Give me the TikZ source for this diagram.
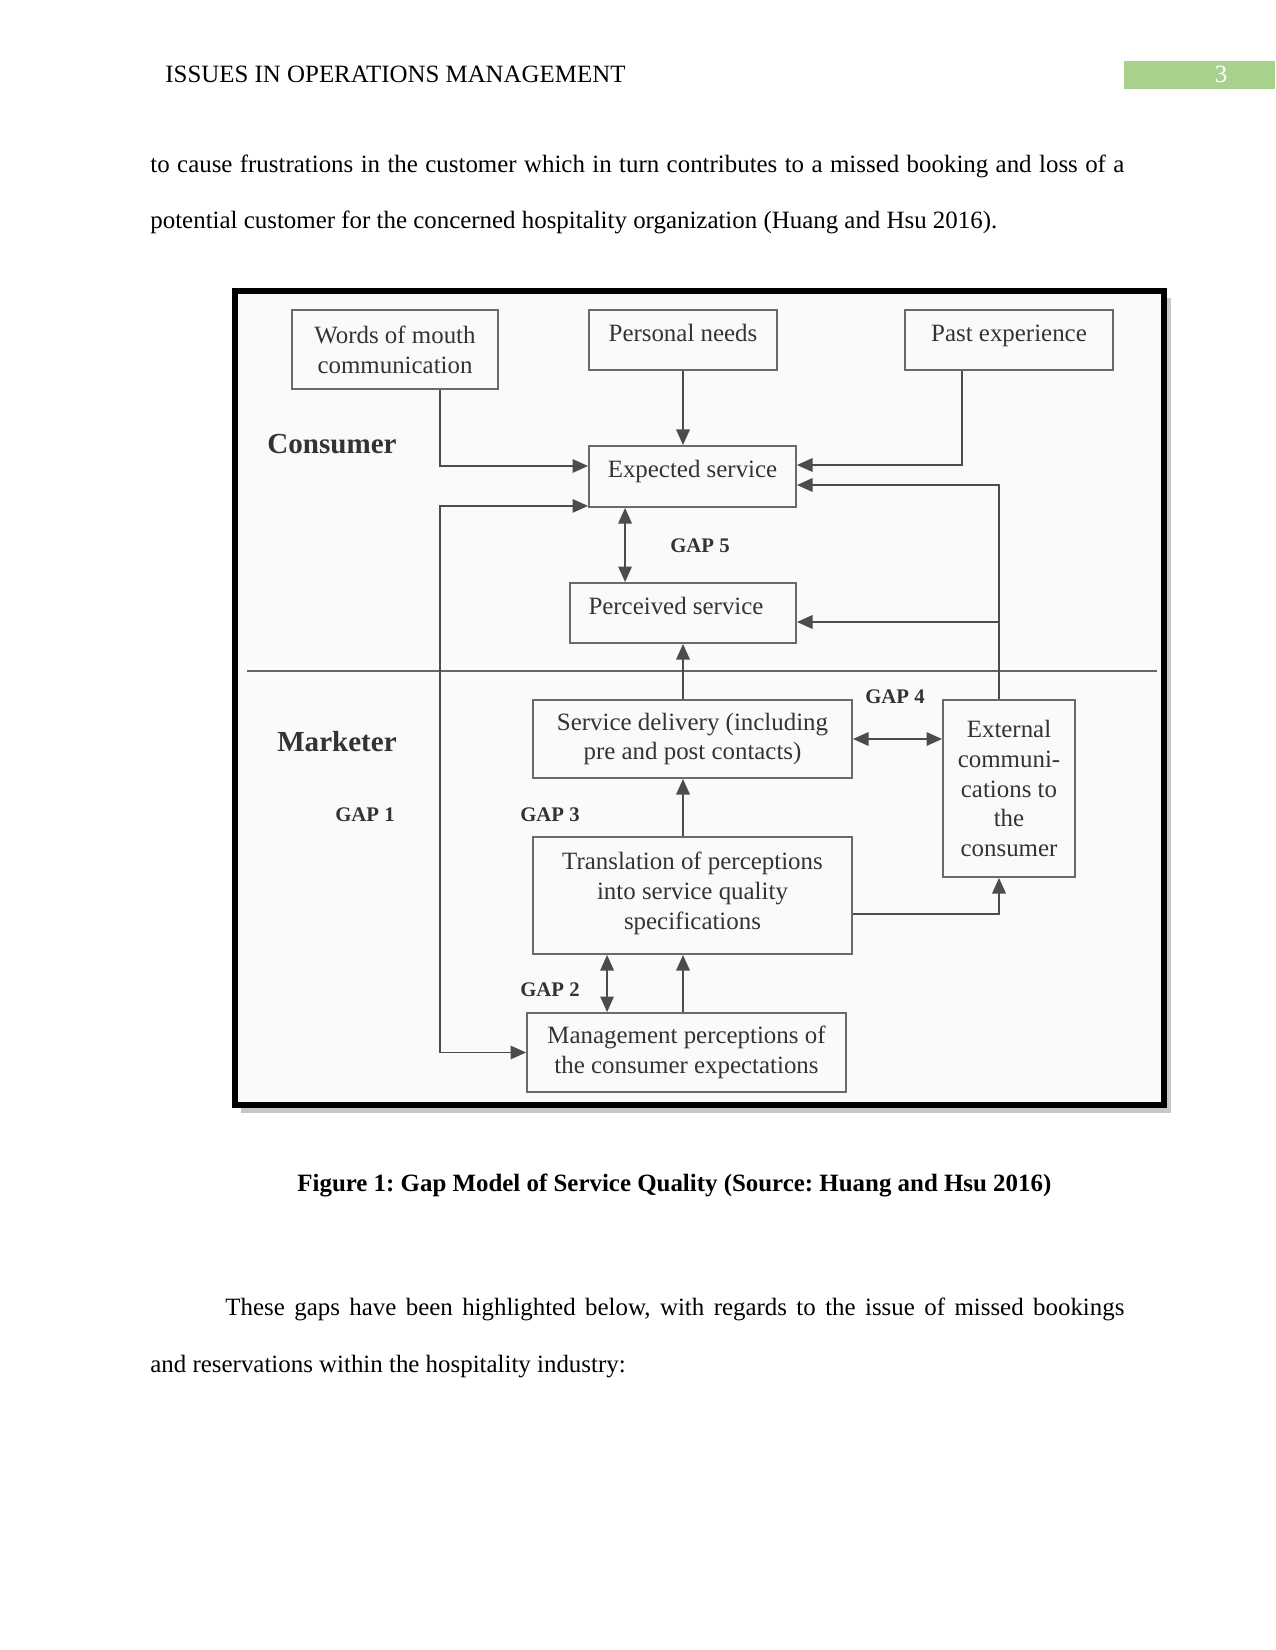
\documentclass[tikz,border=0pt]{standalone}
\usepackage{fontspec}
\setmainfont{Liberation Serif}
\usetikzlibrary{arrows.meta, calc}
\newdimen\pxu \pxu=0.4818pt
\definecolor{pagegreen}{HTML}{A9D18E}
\definecolor{boxline}{HTML}{6A6A6A}
\definecolor{inkgray}{HTML}{333333}
\frenchspacing

\begin{document}
\begin{tikzpicture}[
    x=\pxu, y=-\pxu,
    % Styles
    box/.style={rectangle, draw=boxline, line width=0.9pt, align=center, inner sep=2pt, text=inkgray, font=\fontsize{12}{14.4}\selectfont},
    oneline/.style={text height=8.5pt, text depth=7.3pt},
    arrow/.style={-{Triangle[length=7.5pt, width=6.5pt]}, line width=0.8pt, black!70},
    twoway/.style={{Triangle[length=7.5pt, width=6.5pt]}-{Triangle[length=7.5pt, width=6.5pt]}, line width=0.8pt, black!70},
    gaplabel/.style={font=\bfseries\fontsize{10}{12}\selectfont, text=inkgray},
    side/.style={font=\bfseries\fontsize{14}{16}\selectfont, text=inkgray},
    body/.style={anchor=base west, inner sep=0pt, font=\fontsize{12}{14}\selectfont},
]
\useasboundingbox (0,0) rectangle (1275,1650);
\fill[white] (0,0) rectangle (1275,1650);

% === PAGE TEXT ===
\node[body] (header) at (165,83) {ISSUES IN OPERATIONS MANAGEMENT};
\fill[pagegreen] (1124,61) rectangle (1275,89);
\node[body, anchor=base, text=white] (pageno) at (1221,83) {3};
\node[body] (lineone) at (150,173) {\makebox[974\pxu][s]{to cause frustrations in the customer which in turn contributes to a missed booking and loss of a}};
\node[body] (linetwo) at (150,229) {potential customer for the concerned hospitality organization (Huang and Hsu 2016).};

% === FRAME ===
\fill[black!22] (241,298) rectangle (1171,1113);
\fill[black!2] (234.5,291) rectangle (1163.5,1105);
\draw[line width=6\pxu] (234.5,291) rectangle (1163.5,1105);

% === CONSUMER ===
\node[box, minimum width=206\pxu, minimum height=79\pxu] (mouth) at (395,349.5) {Words of mouth\\communication};
\node[box, oneline, minimum width=188\pxu, minimum height=60\pxu] (needs) at (683,340) {Personal needs};
\node[box, oneline, minimum width=208\pxu, minimum height=60\pxu] (past) at (1009,340) {Past experience};
\node[box, oneline, minimum width=207\pxu, minimum height=61\pxu] (expected) at (692.5,476.5) {Expected service};
\node[box, oneline, minimum width=226\pxu, minimum height=60\pxu] (perceived) at (683,613) {Perceived service\hspace*{14\pxu}};

% === MARKETER ===
\node[box, minimum width=319\pxu, minimum height=78\pxu] (delivery) at (692.5,739) {Service delivery (including\\pre and post contacts)};
\node[box, minimum width=319\pxu, minimum height=117\pxu] (translation) at (692.5,895.5) {Translation of perceptions\\into service quality\\specifications\\[-10pt]};
\node[box, minimum width=319\pxu, minimum height=79\pxu] (mgmt) at (686.5,1052.5) {Management perceptions of\\the consumer expectations};
\node[box, minimum width=132\pxu, minimum height=177\pxu] (external) at (1009,788.5) {External\\communi-\\cations to\\the\\consumer};

% Divider
\draw[line width=0.9pt, black!60] (247,671) -- (1157,671);

% Consumer arrows
\draw[arrow] ($(mouth.south west)+(149,0)$) |- ($(expected.west)+(0,-10.5)$);
\draw[arrow] (needs.south) -- (needs.south |- expected.north);
\draw[arrow] ($(past.south)+(-47,0)$) |- ($(expected.east)+(0,-11.5)$);
\coordinate (extup) at ($(external.north)+(-10,0)$);
\draw[arrow] (extup) |- ($(expected.east)+(0,8.5)$);
\draw[arrow] (extup) |- ($(perceived.east)+(0,9)$);
\coordinate (gapfive) at ($(expected.south west)+(37,0)$);
\draw[twoway] (gapfive) -- (gapfive |- perceived.north);
\draw[arrow] (needs.south |- delivery.north) -- (needs.south |- perceived.south);

% Marketer arrows
\draw[arrow] (needs.south |- translation.north) -- (needs.south |- delivery.south);
\draw[arrow] (needs.south |- mgmt.north) -- (needs.south |- translation.south);
\coordinate (gaptwo) at ($(translation.south west)+(75,0)$);
\draw[twoway] (gaptwo) -- (gaptwo |- mgmt.north);
\draw[twoway] (delivery.east) -- (delivery.east -| external.west);
\draw[arrow] ($(translation.east)+(0,18.5)$) -| ($(external.south)+(-10,0)$);

% GAP 1 loop
\coordinate (loopstart) at ($(expected.south west)+(0,-2)$);
\coordinate (loopx) at ($(mouth.south west)+(149,0)$);
\draw[twoway] (loopstart) -- (loopstart -| loopx) |- (mgmt.west);

% Labels
\node[side] (consumer) at (332,444) {Consumer};
\node[side] (marketer) at (337,742) {Marketer};
\node[gaplabel] (gapone) at (365,815) {GAP 1};
\node[gaplabel] (gapthree) at (550,815) {GAP 3};
\node[gaplabel] (gaptwolabel) at (550,990) {GAP 2};
\node[gaplabel] (gapfour) at (895,697) {GAP 4};
\node[gaplabel] (gapfivelabel) at (700,546) {GAP 5};

% === CAPTION AND TEXT ===
\node[body, font=\bfseries\fontsize{12}{14}\selectfont] (caption) at (297,1191) {Figure 1: Gap Model of Service Quality (Source: Huang and Hsu 2016)};
\node[body] (parone) at (225,1315) {\makebox[899\pxu][s]{These gaps have been highlighted below, with regards to the issue of missed bookings}};
\node[body] (partwo) at (150,1372) {and reservations within the hospitality industry:};

\end{tikzpicture}
\end{document}
